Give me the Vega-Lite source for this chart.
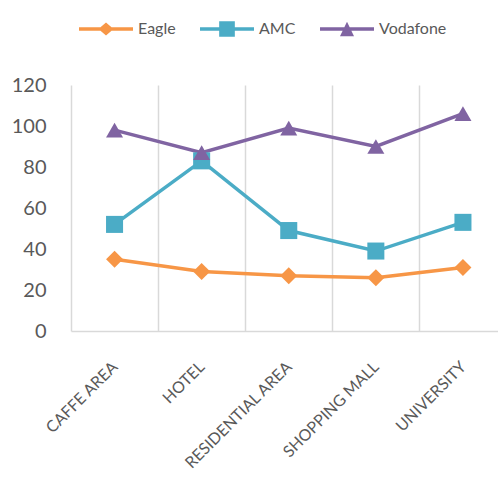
{
  "$schema": "https://vega.github.io/schema/vega-lite/v6.json",
  "width": 427,
  "height": 246,
  "autosize": {"type": "none"},
  "padding": {"left": 71, "top": 85, "right": 0, "bottom": 159},
  "background": "white",
  "config": {"view": {"stroke": null}, "font": "Lato"},
  "data": {
    "values": [
      {"location": "CAFFE AREA", "series": "Eagle", "value": 35},
      {"location": "HOTEL", "series": "Eagle", "value": 29},
      {"location": "RESIDENTIAL AREA", "series": "Eagle", "value": 27},
      {"location": "SHOPPING MALL", "series": "Eagle", "value": 26},
      {"location": "UNIVERSITY", "series": "Eagle", "value": 31},
      {"location": "CAFFE AREA", "series": "AMC", "value": 52},
      {"location": "HOTEL", "series": "AMC", "value": 83},
      {"location": "RESIDENTIAL AREA", "series": "AMC", "value": 49},
      {"location": "SHOPPING MALL", "series": "AMC", "value": 39},
      {"location": "UNIVERSITY", "series": "AMC", "value": 53},
      {"location": "CAFFE AREA", "series": "Vodafone", "value": 98},
      {"location": "HOTEL", "series": "Vodafone", "value": 87},
      {"location": "RESIDENTIAL AREA", "series": "Vodafone", "value": 99},
      {"location": "SHOPPING MALL", "series": "Vodafone", "value": 90},
      {"location": "UNIVERSITY", "series": "Vodafone", "value": 106}
    ]
  },
  "encoding": {
    "x": {
      "field": "location",
      "type": "nominal",
      "sort": ["CAFFE AREA", "HOTEL", "RESIDENTIAL AREA", "SHOPPING MALL", "UNIVERSITY"],
      "scale": {"type": "band", "paddingInner": 0, "paddingOuter": 0, "range": [0, 435.5]},
      "axis": {
        "title": null,
        "tickBand": "extent",
        "ticks": false,
        "grid": true,
        "gridColor": "#D9D9D9",
        "gridWidth": 1.5,
        "domainColor": "#D9D9D9",
        "domainWidth": 1.5,
        "labelAngle": -45,
        "labelAlign": "right",
        "labelBaseline": "middle",
        "labelFont": "Lato",
        "labelFontSize": 16,
        "labelColor": "#595959",
        "labelPadding": 33
      }
    },
    "y": {
      "field": "value",
      "type": "quantitative",
      "scale": {"domain": [0, 120], "nice": false},
      "axis": {
        "title": null,
        "values": [0, 20, 40, 60, 80, 100, 120],
        "domain": false,
        "ticks": false,
        "grid": false,
        "labelFont": "Lato",
        "labelFontSize": 20,
        "labelColor": "#595959",
        "labelPadding": 25
      }
    }
  },
  "layer": [
    {
      "mark": {"type": "line", "strokeWidth": 3.5},
      "encoding": {
        "color": {
          "field": "series",
          "type": "nominal",
          "scale": {"domain": ["Eagle", "AMC", "Vodafone"], "range": ["#F79646", "#4BACC6", "#8064A2"]},
          "legend": null
        }
      }
    },
    {
      "mark": {"type": "point", "filled": true, "size": 290, "opacity": 1},
      "encoding": {
        "color": {
          "field": "series",
          "type": "nominal",
          "scale": {"domain": ["Eagle", "AMC", "Vodafone"], "range": ["#F79646", "#4BACC6", "#8064A2"]},
          "legend": null
        },
        "shape": {
          "field": "series",
          "type": "nominal",
          "scale": {"domain": ["Eagle", "AMC", "Vodafone"], "range": ["diamond", "square", "triangle-up"]},
          "legend": null
        }
      }
    },
    {
      "transform": [{"filter": "false"}],
      "mark": {"type": "point", "filled": true, "opacity": 1},
      "encoding": {
        "color": {
          "field": "series",
          "type": "nominal",
          "scale": {"domain": ["Eagle", "AMC", "Vodafone"], "range": ["#F79646", "#4BACC6", "#8064A2"]},
          "legend": {
            "title": null,
            "orient": "top",
            "direction": "horizontal",
            "symbolSize": 2916,
            "symbolStrokeWidth": 0,
            "labelFont": "Lato",
            "labelFontSize": 16,
            "labelColor": "#595959",
            "labelOffset": 5,
            "columnPadding": 24,
            "padding": 8,
            "offset": 40
          }
        },
        "shape": {
          "field": "series",
          "type": "nominal",
          "scale": {
            "domain": ["Eagle", "AMC", "Vodafone"],
            "range": [
              "M-1,-0.065L1,-0.065L1,0.065L-1,0.065Z M0,-0.24L0.28,0L0,0.24L-0.28,0Z",
              "M-1,-0.065L1,-0.065L1,0.065L-1,0.065Z M-0.29,-0.29L0.29,-0.29L0.29,0.29L-0.29,0.29Z",
              "M-1,-0.065L1,-0.065L1,0.065L-1,0.065Z M0,-0.27L0.26,0.27L-0.26,0.27Z"
            ]
          },
          "legend": {
            "title": null,
            "orient": "top",
            "direction": "horizontal",
            "symbolSize": 2916,
            "symbolStrokeWidth": 0,
            "labelFont": "Lato",
            "labelFontSize": 16,
            "labelColor": "#595959",
            "labelOffset": 5,
            "columnPadding": 24,
            "padding": 8,
            "offset": 40
          }
        }
      }
    }
  ],
  "resolve": {"scale": {"shape": "independent", "color": "independent"}}
}
